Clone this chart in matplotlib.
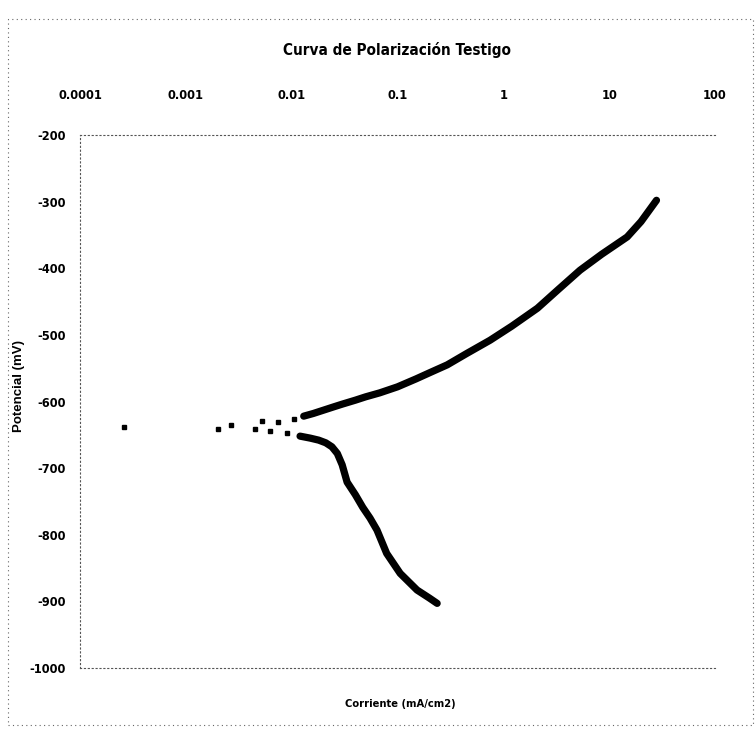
import matplotlib
matplotlib.use("Agg")
import matplotlib.pyplot as plt
from matplotlib.patches import Rectangle
from matplotlib import font_manager

# ---- data ----
sparse_I = [0.00026, 0.0020, 0.0027, 0.0045, 0.0053, 0.0062, 0.0075, 0.0090, 0.0105]
sparse_E = [-639, -641, -635, -642, -629, -645, -631, -648, -627]

anodic_I = [0.013, 0.016, 0.02, 0.025, 0.03, 0.04, 0.05, 0.068, 0.1, 0.15, 0.2,
            0.295, 0.45, 0.75, 1.2, 2.1, 3.3, 5.3, 8.5, 14.8, 20, 28]
anodic_E = [-622, -618, -613, -608, -604, -598, -593, -587, -578, -566, -557,
            -545, -528, -508, -487, -460, -432, -403, -379, -353, -330, -298]

cathodic_I = [0.012, 0.015, 0.018, 0.021, 0.024, 0.027, 0.030, 0.0334, 0.04,
              0.047, 0.055, 0.064, 0.079, 0.106, 0.153, 0.2, 0.237]
cathodic_E = [-652, -655, -658, -662, -668, -678, -695, -721, -740,
              -759, -775, -793, -828, -858, -883, -895, -903]

x_ticks = [0.0001, 0.001, 0.01, 0.1, 1, 10, 100]
x_tick_labels = ["0.0001", "0.001", "0.01", "0.1", "1", "10", "100"]
y_ticks = [-200, -300, -400, -500, -600, -700, -800, -900, -1000]

title = "Curva de Polarización Testigo"
xlabel = "Corriente (mA/cm2)"
ylabel = "Potencial (mV)"

# pick a narrow/condensed bold face if one is installed
narrow_bold = None
narrow_any = None
for f in font_manager.fontManager.ttflist:
    n = f.name.lower() + " " + f.fname.lower()
    if ("narrow" in n or "condensed" in n) and "mono" not in n and "italic" not in f.style:
        w = f.weight if isinstance(f.weight, int) else (700 if "bold" in str(f.weight) else 400)
        if w >= 600 and narrow_bold is None:
            narrow_bold = font_manager.FontProperties(fname=f.fname)
        if narrow_any is None:
            narrow_any = f.name

def fp(size):
    if narrow_bold is not None:
        p = narrow_bold.copy()
        p.set_size(size)
        return p
    fams = ([narrow_any] if narrow_any else []) + ["Liberation Sans", "DejaVu Sans"]
    return font_manager.FontProperties(family=fams, weight="bold", size=size)

W, H = 756, 735
fig = plt.figure(figsize=(W / 100, H / 100), dpi=100)
fig.patch.set_facecolor("white")

L, R, T, B = 80, 715, 135, 668
ax = fig.add_axes([L / W, 1 - B / H, (R - L) / W, (B - T) / H])
ax.set_xscale("log")
ax.set_xlim(0.0001, 100)
ax.set_ylim(-1000, -200)

ax.plot(sparse_I, sparse_E, linestyle="none", marker="s", ms=3.2, color="black", mec="black")
ax.plot(anodic_I, anodic_E, "-", color="black", lw=5.2, solid_capstyle="round")
ax.plot(cathodic_I, cathodic_E, "-", color="black", lw=5.2, solid_capstyle="round")

ax.xaxis.tick_top()
ax.set_xticks(x_ticks)
ax.set_xticklabels(x_tick_labels)
ax.minorticks_off()
ax.set_yticks(y_ticks)
ax.set_yticklabels([str(v) for v in y_ticks])
ax.tick_params(axis="x", length=0, pad=24)
ax.tick_params(axis="y", length=0, pad=10)
for lab in ax.get_xticklabels() + ax.get_yticklabels():
    lab.set_fontproperties(fp(9.2))

for side in ["top", "left", "bottom"]:
    ax.spines[side].set_linestyle((0, (1, 2.5)))
    ax.spines[side].set_color("#555555")
    ax.spines[side].set_linewidth(0.8)
ax.spines["right"].set_visible(False)

fig.text(397 / W, 1 - 50 / H, title, ha="center", va="center",
         fontproperties=fp(11))
fig.text(400 / W, 1 - 704 / H, xlabel, ha="center", va="center",
         fontproperties=fp(8))
fig.text(19 / W, 1 - 386 / H, ylabel, ha="center", va="center", rotation=90,
         fontsize=9.5, fontweight="bold", family=["Liberation Sans", "DejaVu Sans"])

# outer chart border (dotted)
fig.add_artist(Rectangle((8 / W, 10 / H), 745 / W, 706 / H, transform=fig.transFigure,
                         fill=False, ec="#666666", lw=0.8, ls=(0, (1, 3))))

fig.savefig("out.png", dpi=100)
